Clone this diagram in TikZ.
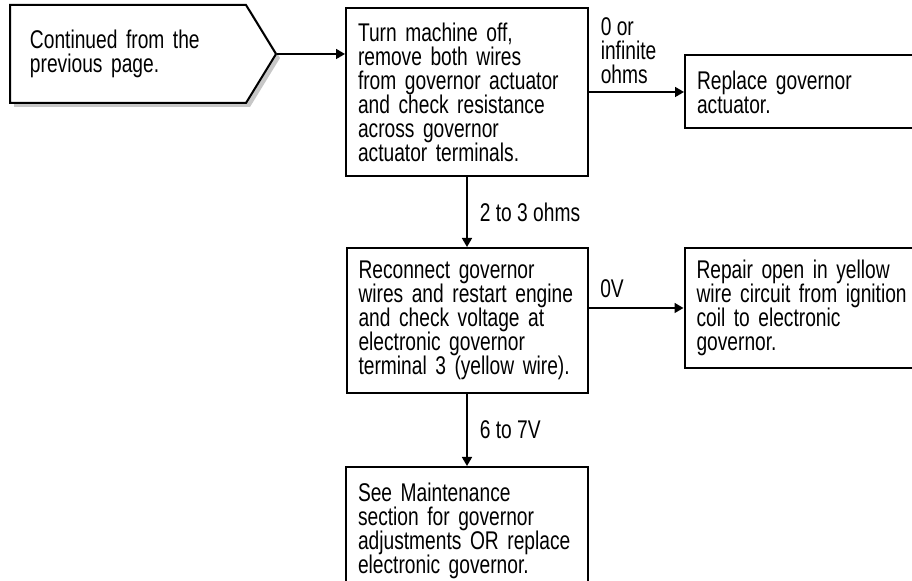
\documentclass[tikz,border=0pt]{standalone}
\usepackage{fontspec}
\setmainfont{Liberation Sans}[FakeStretch=0.75]
\usetikzlibrary{positioning, arrows.meta, shapes.symbols, shadows}
\tikzset{
    stepbox/.style={
        draw=black, line width=1pt, rectangle,
        font={\fontsize{12.8}{12}\selectfont}, align=left,
        inner xsep=6pt, inner ysep=2pt, fill=white
    },
    contshape/.style={
        stepbox, shape=signal, signal to=east, signal from=nowhere,
        signal pointer angle=117,
        drop shadow={shadow xshift=2pt, shadow yshift=-2pt,
            fill=black!22, opacity=1}
    },
    flow/.style={
        -{Triangle[length=4.5pt, width=5pt]},
        line width=0.8pt, draw=black
    },
    condlbl/.style={
        font={\fontsize{12.8}{12}\selectfont}, align=left, inner sep=0pt
    },
}
\hyphenpenalty=10000

\begin{document}
\begin{tikzpicture}
\useasboundingbox (0,0) rectangle (456pt,-290.5pt);
\clip (0,0) rectangle (456pt,-290.5pt);

% ---- start marker ----
\node[contshape, anchor=west, minimum height=49pt, text width=98pt,
      inner xsep=10pt]
    (cont) at (4.5pt,-27pt) {Continued from the\\previous page.};

% ---- main column ----
\node[stepbox, anchor=north west, text width=109pt, minimum height=84pt]
    (resist) at (172.5pt,-3.5pt)
    {Turn machine off,\\remove both wires\\from governor actuator\\and check resistance\\across governor\\actuator terminals.};
\node[stepbox, below=35pt of resist, text width=108.5pt, minimum height=72.5pt]
    (volt) {Reconnect governor\\wires and restart engine\\and check voltage at\\electronic governor\\terminal 3 (yellow wire).};
\node[stepbox, below=36pt of volt, text width=109pt, minimum height=64pt]
    (maint) {See Maintenance\\section for governor\\adjustments OR replace\\electronic governor.};

% ---- right column ----
\node[stepbox, right=47.5pt of resist, text width=113pt, minimum height=36.5pt]
    (actr) {Replace governor\\actuator.};
\node[stepbox, right=47.5pt of volt.north east, anchor=north west,
      text width=113pt, minimum height=60pt]
    (wire) {Repair open in yellow\\wire circuit from ignition\\coil to electronic\\governor.};

% ---- connectors ----
\draw[flow] (cont.east) -- (cont.east -| resist.west);
\draw[flow] (resist.east |- actr.west) --
    node[condlbl, pos=0, anchor=south west, xshift=5.5pt, yshift=3.5pt]
    {0 or\\infinite\\ohms} (actr.west);
\draw[flow] (resist) --
    node[condlbl, right, xshift=6pt] (lbl-ohm) {2 to 3 ohms} (volt);
\draw[flow] (volt.east |- wire.west) --
    node[condlbl, pos=0, anchor=south west, xshift=5.5pt, yshift=4.5pt]
    {0V} (wire.west);
\draw[flow] (volt) --
    node[condlbl, right, xshift=6pt] (lbl-volt) {6 to 7V} (maint);

\end{tikzpicture}
\end{document}
